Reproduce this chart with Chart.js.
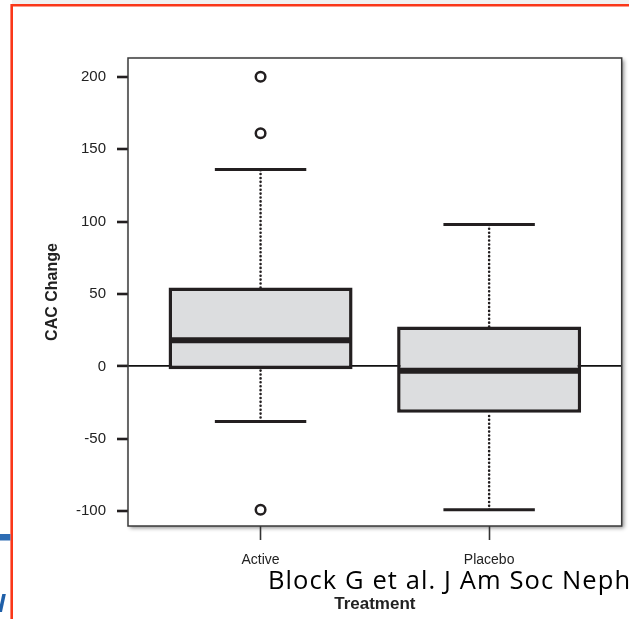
<!DOCTYPE html>
<html><head><meta charset="utf-8">
<script src="https://cdn.jsdelivr.net/npm/chart.js@4.4.1/dist/chart.umd.min.js"></script>
<style>html,body{margin:0;padding:0;background:#fff;overflow:hidden}canvas{display:block}</style>
</head><body>
<canvas id="c" width="629" height="619"></canvas>
<script>
// ---- data ----
const CATEGORIES   = ['Active', 'Placebo'];
const POSITIONS    = [1, 2];
const WHISKER_LOW  = [-38, -99];
const Q1           = [-2, -32];
const MEDIAN       = [18, -3];
const Q3           = [54.5, 27.5];
const WHISKER_HIGH = [136, 98];
const OUTLIERS     = [[200, 161, -99], []];
const Y_TICKS      = [-100, -50, 0, 50, 100, 150, 200];
const Y_RANGE      = [-110.2, 212.9];
const X_RANGE      = [0.42, 2.58];

// ---- drawing configuration ----
const BOX_WIDTH = 0.805, CAP_WIDTH = 0.4;
const INK = '#231f20';

function segments(build) {
  const out = [];
  POSITIONS.forEach((p, i) => build(p, i).forEach(s => {
    out.push(s[0], s[1], {x: s[1].x, y: null});
  }));
  return out;
}

const boxData = POSITIONS.map((p, i) => ({x: p, y: [Q1[i], Q3[i]]}));
const whiskerData = segments((p, i) => [
  [{x: p, y: Q3[i]}, {x: p, y: WHISKER_HIGH[i]}],
  [{x: p, y: WHISKER_LOW[i]}, {x: p, y: Q1[i]}]
]);
const capData = segments((p, i) => [
  [{x: p - CAP_WIDTH / 2, y: WHISKER_HIGH[i]}, {x: p + CAP_WIDTH / 2, y: WHISKER_HIGH[i]}],
  [{x: p - CAP_WIDTH / 2, y: WHISKER_LOW[i]}, {x: p + CAP_WIDTH / 2, y: WHISKER_LOW[i]}]
]);
const medianData = segments((p, i) => [
  [{x: p - BOX_WIDTH / 2 + 0.004, y: MEDIAN[i]}, {x: p + BOX_WIDTH / 2 - 0.004, y: MEDIAN[i]}]
]);
const outlierData = [];
POSITIONS.forEach((p, i) => OUTLIERS[i].forEach(v => outlierData.push({x: p, y: v})));

const framePlugin = {
  id: 'frame',
  beforeDraw(chart) {
    const {ctx, chartArea: a} = chart;
    ctx.save();
    ctx.fillStyle = '#f1f1f1';
    ctx.fillRect(12, 0, 629, 4);
    ctx.fillStyle = '#fff';
    ctx.shadowColor = 'rgba(0,0,0,0.45)';
    ctx.shadowBlur = 4;
    ctx.shadowOffsetX = 2;
    ctx.shadowOffsetY = 2;
    ctx.fillRect(a.left, a.top, a.right - a.left, a.bottom - a.top);
    ctx.restore();
  },
  afterDraw(chart) {
    const {ctx, chartArea: a} = chart;
    ctx.save();
    ctx.strokeStyle = '#3a3a3a';
    ctx.lineWidth = 1.5;
    ctx.strokeRect(a.left, a.top, a.right - a.left, a.bottom - a.top);
    // slide decorations
    ctx.strokeStyle = '#fa3719';
    ctx.lineWidth = 2.6;
    ctx.beginPath();
    ctx.moveTo(11.7, 619); ctx.lineTo(11.7, 5.3); ctx.lineTo(629, 5.3);
    ctx.stroke();
    ctx.fillStyle = '#2e6db4';
    ctx.fillRect(0, 534, 10.4, 6.5);
    ctx.fillStyle = '#1f5fa8';
    ctx.font = 'italic bold 24px "Open Sans"';
    ctx.textBaseline = 'alphabetic';
    ctx.fillText('l', -2, 612);
    // citation overlay
    ctx.fillStyle = '#000';
    ctx.font = '25.5px "Open Sans"';
    if ('letterSpacing' in ctx) ctx.letterSpacing = '1.1px';
    ctx.fillText('Block G et al. J Am Soc Neph', 268, 589);
    ctx.restore();
  }
};

new Chart(document.getElementById('c'), {
  type: 'bar',
  data: {
    datasets: [
      {
        type: 'line', label: 'Outliers', data: outlierData, showLine: false,
        pointRadius: 4.8, pointBorderWidth: 2.5, pointBackgroundColor: '#fff',
        pointBorderColor: INK, order: 0
      },
      {
        type: 'line', label: 'Median', data: medianData, showLine: true, spanGaps: false,
        borderColor: INK, borderWidth: 6, borderCapStyle: 'butt', pointRadius: 0, fill: false, order: 1
      },
      {
        type: 'bar', label: 'IQR', data: boxData, backgroundColor: '#dcdddf',
        borderColor: INK, borderWidth: 3.5, borderSkipped: false,
        categoryPercentage: BOX_WIDTH, barPercentage: 1, order: 2
      },
      {
        type: 'line', label: 'Whiskers', data: whiskerData, showLine: true, spanGaps: false,
        borderColor: INK, borderWidth: 2.6, borderDash: [0.01, 3.9], borderCapStyle: 'round',
        pointRadius: 0, fill: false, order: 3
      },
      {
        type: 'line', label: 'Caps', data: capData, showLine: true, spanGaps: false,
        borderColor: INK, borderWidth: 3, borderCapStyle: 'butt', pointRadius: 0, fill: false, order: 3
      }
    ]
  },
  options: {
    responsive: false,
    animation: false,
    events: [],
    devicePixelRatio: 1,
    layout: {padding: {left: 0, top: 58, right: 6, bottom: 0}},
    plugins: {legend: {display: false}, tooltip: {enabled: false}},
    scales: {
      x: {
        type: 'linear', min: X_RANGE[0], max: X_RANGE[1], offset: false,
        grid: {offset: false, drawOnChartArea: false, drawTicks: true, tickLength: 14, tickWidth: 1.6, tickColor: '#333'},
        border: {display: false},
        afterBuildTicks: s => { s.ticks = POSITIONS.map(v => ({value: v})); },
        afterFit: s => { s.height = 93; },
        ticks: {
          color: '#222', padding: 12, maxRotation: 0, autoSkip: false,
          font: {family: '"Liberation Sans", Arial, sans-serif', size: 14},
          callback: (v) => CATEGORIES[POSITIONS.indexOf(v)]
        },
        title: {
          display: true, text: 'Treatment', color: '#222', padding: {top: 0, bottom: 4},
          font: {family: '"Liberation Sans", Arial, sans-serif', size: 17, weight: 'bold'}
        }
      },
      y: {
        type: 'linear', min: Y_RANGE[0], max: Y_RANGE[1],
        afterBuildTicks: s => { s.ticks = Y_TICKS.map(v => ({value: v})); },
        afterFit: s => { s.width = 128; },
        border: {display: false},
        grid: {
          drawOnChartArea: true, drawTicks: true, tickLength: 11, tickWidth: 2.6, tickColor: INK,
          color: c => (c.tick && c.tick.value === 0) ? '#111' : 'rgba(0,0,0,0)',
          lineWidth: c => (c.tick && c.tick.value === 0) ? 1.8 : 0
        },
        ticks: {
          color: '#222', padding: 11,
          font: {family: '"Liberation Sans", Arial, sans-serif', size: 15}
        },
        title: {
          display: true, text: 'CAC Change', color: '#222', padding: {top: 43, bottom: 0},
          font: {family: '"Liberation Sans", Arial, sans-serif', size: 16, weight: 'bold'}
        }
      }
    }
  },
  plugins: [framePlugin]
});
</script>
</body></html>
